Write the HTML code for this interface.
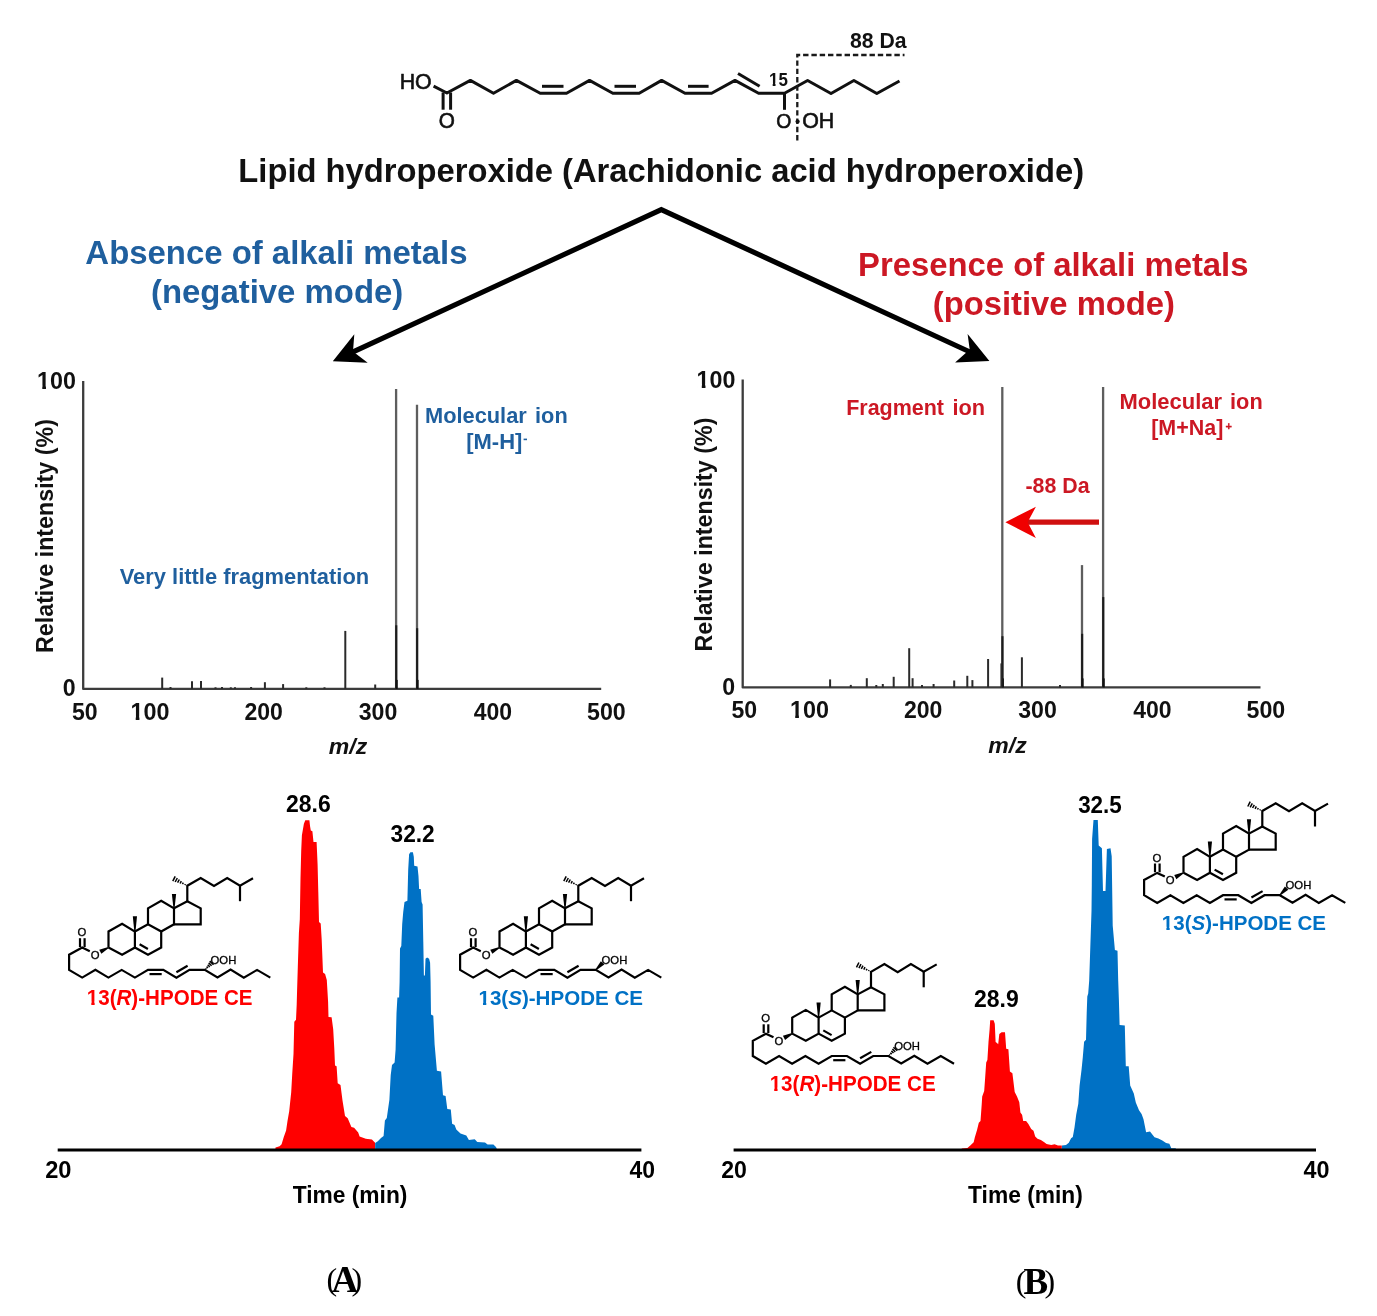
<!DOCTYPE html>
<html><head><meta charset="utf-8"><style>
html,body{margin:0;padding:0;background:#fff;}
svg{display:block;filter:blur(0.4px);}
text{font-family:"Liberation Sans",sans-serif;}
</style></head><body>
<svg width="1377" height="1316" viewBox="0 0 1377 1316">
<rect width="1377" height="1316" fill="#fff"/>
<polyline points="433.6,86.2 446.9,93.0 470.4,80.4 493.5,93.2 516.4,80.4 540.2,93.2 566.5,93.2 589.5,80.4 612.8,93.2 639.2,93.2 661.6,80.4 685.0,93.2 711.6,93.2 735.0,80.4 758.6,93.2 784.5,93.2 807.6,80.5 831.0,93.5 853.9,80.5 876.8,93.5 899.5,81.0" fill="none" stroke="#111" stroke-width="3.0" stroke-linejoin="round"/>
<line x1="443.10" y1="92.50" x2="443.10" y2="109.70" stroke="#111" stroke-width="3.0" />
<line x1="450.60" y1="92.50" x2="450.60" y2="109.70" stroke="#111" stroke-width="3.0" />
<line x1="542.00" y1="86.30" x2="563.50" y2="86.30" stroke="#111" stroke-width="3.0" />
<line x1="614.50" y1="86.30" x2="636.00" y2="86.30" stroke="#111" stroke-width="3.0" />
<line x1="688.00" y1="86.30" x2="708.60" y2="86.30" stroke="#111" stroke-width="3.0" />
<line x1="738.00" y1="73.50" x2="759.60" y2="86.30" stroke="#111" stroke-width="3.0" />
<line x1="784.50" y1="93.00" x2="784.50" y2="109.80" stroke="#111" stroke-width="3.0" />
<text x="399.69" y="88.90" font-size="21.31" font-weight="normal" fill="#111" stroke="#111" stroke-width="0.6" stroke-linejoin="round" transform="matrix(1,0,0,1.035,0,-3.111)" textLength="31.97" lengthAdjust="spacingAndGlyphs" style="">HO</text>
<text x="438.67" y="128.20" font-size="20.73" font-weight="normal" fill="#111" stroke="#111" stroke-width="0.6" stroke-linejoin="round" transform="matrix(1,0,0,1.035,0,-4.487)" textLength="16.12" lengthAdjust="spacingAndGlyphs" style="">O</text>
<text x="776.33" y="128.10" font-size="19.42" font-weight="normal" fill="#111" stroke="#111" stroke-width="0.6" stroke-linejoin="round" transform="matrix(1,0,0,1.035,0,-4.483)" textLength="15.10" lengthAdjust="spacingAndGlyphs" style="">O</text>
<text x="802.24" y="128.10" font-size="21.38" font-weight="normal" fill="#111" stroke="#111" stroke-width="0.6" stroke-linejoin="round" transform="matrix(1,0,0,1.035,0,-4.483)" textLength="32.07" lengthAdjust="spacingAndGlyphs" style="">OH</text>
<text x="768.98" y="85.60" font-size="16.98" font-weight="bold" fill="#111" transform="matrix(1,0,0,1.035,0,-2.996)" textLength="18.88" lengthAdjust="spacingAndGlyphs" style="">15</text><rect x="769.23" y="82.81" width="3.46" height="3.79" fill="#fff"/><rect x="775.52" y="82.81" width="3.33" height="3.79" fill="#fff"/>
<path d="M797.3,140.5 V55 H904.5" fill="none" stroke="#1a1a1a" stroke-width="2.3" stroke-dasharray="5.4,2.9"/>
<circle cx="797.6" cy="121.6" r="2.1" fill="#111"/>
<text x="849.96" y="48.30" font-size="21.21" font-weight="bold" fill="#111" transform="matrix(1,0,0,1.035,0,-1.690)" textLength="56.60" lengthAdjust="spacingAndGlyphs" style="">88 Da</text>
<text x="238.37" y="182.50" font-size="32.73" font-weight="bold" fill="#111" transform="matrix(1,0,0,1.035,0,-6.387)" textLength="845.68" lengthAdjust="spacingAndGlyphs" style="">Lipid hydroperoxide (Arachidonic acid hydroperoxide)</text>
<polyline points="352,352.4 661.3,209.6 970,352" fill="none" stroke="#000" stroke-width="5.1" stroke-linejoin="miter"/>
<polygon points="332.8,361.3 354.3,334.2 353.0,351.4 367.7,362.7" fill="#000"/>
<polygon points="989.4,361.0 967.6,334.0 969.7,349.4 955.1,362.4" fill="#000"/>
<text x="85.38" y="263.80" font-size="32.90" font-weight="bold" fill="#1f5f9e" transform="matrix(1,0,0,1.035,0,-9.233)" textLength="382.18" lengthAdjust="spacingAndGlyphs" style="">Absence of alkali metals</text>
<text x="150.95" y="302.70" font-size="32.91" font-weight="bold" fill="#1f5f9e" transform="matrix(1,0,0,1.035,0,-10.594)" textLength="252.33" lengthAdjust="spacingAndGlyphs" style="">(negative mode)</text>
<text x="858.07" y="276.20" font-size="32.82" font-weight="bold" fill="#cc1824" transform="matrix(1,0,0,1.035,0,-9.667)" textLength="390.37" lengthAdjust="spacingAndGlyphs" style="">Presence of alkali metals</text>
<text x="932.76" y="314.90" font-size="32.78" font-weight="bold" fill="#cc1824" transform="matrix(1,0,0,1.035,0,-11.021)" textLength="242.27" lengthAdjust="spacingAndGlyphs" style="">(positive mode)</text>
<path d="M83.20,380.90 V688.90 H601.20" fill="none" stroke="#3c3c3c" stroke-width="2.3" stroke-linejoin="round"/>
<line x1="162.20" y1="677.60" x2="162.20" y2="688.90" stroke="#2a2a2a" stroke-width="2.0" />
<line x1="170.50" y1="687.00" x2="170.50" y2="688.90" stroke="#2a2a2a" stroke-width="2.0" />
<line x1="192.00" y1="681.20" x2="192.00" y2="688.90" stroke="#2a2a2a" stroke-width="2.0" />
<line x1="201.00" y1="681.00" x2="201.00" y2="688.90" stroke="#2a2a2a" stroke-width="2.0" />
<line x1="215.50" y1="687.30" x2="215.50" y2="688.90" stroke="#2a2a2a" stroke-width="2.0" />
<line x1="222.00" y1="687.00" x2="222.00" y2="688.90" stroke="#2a2a2a" stroke-width="2.0" />
<line x1="230.80" y1="687.30" x2="230.80" y2="688.90" stroke="#2a2a2a" stroke-width="2.0" />
<line x1="235.00" y1="687.30" x2="235.00" y2="688.90" stroke="#2a2a2a" stroke-width="2.0" />
<line x1="251.10" y1="687.00" x2="251.10" y2="688.90" stroke="#2a2a2a" stroke-width="2.0" />
<line x1="264.90" y1="682.20" x2="264.90" y2="688.90" stroke="#2a2a2a" stroke-width="2.0" />
<line x1="283.10" y1="684.10" x2="283.10" y2="688.90" stroke="#2a2a2a" stroke-width="2.0" />
<line x1="306.30" y1="687.30" x2="306.30" y2="688.90" stroke="#2a2a2a" stroke-width="2.0" />
<line x1="324.50" y1="687.30" x2="324.50" y2="688.90" stroke="#2a2a2a" stroke-width="2.0" />
<line x1="345.30" y1="630.90" x2="345.30" y2="688.90" stroke="#2a2a2a" stroke-width="2.0" />
<line x1="375.20" y1="684.50" x2="375.20" y2="688.90" stroke="#2a2a2a" stroke-width="2.0" />
<line x1="396.10" y1="389.10" x2="396.10" y2="688.90" stroke="#5e5e5e" stroke-width="2.3" />
<line x1="396.25" y1="625.30" x2="396.25" y2="688.90" stroke="#1c1c1c" stroke-width="2.1" />
<line x1="396.70" y1="679.90" x2="396.70" y2="688.90" stroke="#111" stroke-width="2.0" />
<line x1="417.00" y1="404.70" x2="417.00" y2="688.90" stroke="#5e5e5e" stroke-width="2.3" />
<line x1="417.15" y1="628.20" x2="417.15" y2="688.90" stroke="#1c1c1c" stroke-width="2.1" />
<line x1="417.60" y1="679.90" x2="417.60" y2="688.90" stroke="#111" stroke-width="2.0" />
<text x="37.10" y="389.20" font-size="23.26" font-weight="bold" fill="#111" transform="matrix(1,0,0,1.035,0,-13.622)" textLength="38.81" lengthAdjust="spacingAndGlyphs" style="">100</text><rect x="37.67" y="385.74" width="4.62" height="4.46" fill="#fff"/><rect x="45.97" y="385.74" width="4.37" height="4.46" fill="#fff"/>
<text x="62.67" y="696.40" font-size="23.16" font-weight="bold" fill="#111" transform="matrix(1,0,0,1.035,0,-24.374)" textLength="12.88" lengthAdjust="spacingAndGlyphs" style="">0</text>
<text x="71.91" y="720.00" font-size="23.08" font-weight="bold" fill="#111" transform="matrix(1,0,0,1.035,0,-25.200)" textLength="25.67" lengthAdjust="spacingAndGlyphs" style="">50</text>
<text x="130.50" y="720.00" font-size="23.39" font-weight="bold" fill="#111" transform="matrix(1,0,0,1.035,0,-25.200)" textLength="39.02" lengthAdjust="spacingAndGlyphs" style="">100</text><rect x="131.07" y="716.53" width="4.64" height="4.47" fill="#fff"/><rect x="139.41" y="716.53" width="4.39" height="4.47" fill="#fff"/>
<text x="244.39" y="720.00" font-size="23.02" font-weight="bold" fill="#111" transform="matrix(1,0,0,1.035,0,-25.200)" textLength="38.41" lengthAdjust="spacingAndGlyphs" style="">200</text>
<text x="358.72" y="720.00" font-size="23.12" font-weight="bold" fill="#111" transform="matrix(1,0,0,1.035,0,-25.200)" textLength="38.58" lengthAdjust="spacingAndGlyphs" style="">300</text>
<text x="473.66" y="720.00" font-size="22.98" font-weight="bold" fill="#111" transform="matrix(1,0,0,1.035,0,-25.200)" textLength="38.34" lengthAdjust="spacingAndGlyphs" style="">400</text>
<text x="587.00" y="720.00" font-size="23.20" font-weight="bold" fill="#111" transform="matrix(1,0,0,1.035,0,-25.200)" textLength="38.71" lengthAdjust="spacingAndGlyphs" style="">500</text>
<text x="328.85" y="754.30" font-size="22.00" font-weight="bold" fill="#111" transform="matrix(1,0,0,1.035,0,-26.400)" textLength="38.41" lengthAdjust="spacingAndGlyphs" style="font-style:italic;">m/z</text>
<text transform="translate(52.90,651.50) rotate(-90)" x="-1.51" y="0" font-size="23.26" font-weight="bold" fill="#111" textLength="233.94" lengthAdjust="spacingAndGlyphs">Relative intensity (%)</text>
<path d="M742.70,379.40 V687.40 H1260.50" fill="none" stroke="#3c3c3c" stroke-width="2.3" stroke-linejoin="round"/>
<line x1="830.10" y1="679.40" x2="830.10" y2="687.40" stroke="#2a2a2a" stroke-width="2.0" />
<line x1="850.80" y1="684.90" x2="850.80" y2="687.40" stroke="#2a2a2a" stroke-width="2.0" />
<line x1="866.80" y1="678.20" x2="866.80" y2="687.40" stroke="#2a2a2a" stroke-width="2.0" />
<line x1="876.30" y1="685.00" x2="876.30" y2="687.40" stroke="#2a2a2a" stroke-width="2.0" />
<line x1="882.80" y1="684.00" x2="882.80" y2="687.40" stroke="#2a2a2a" stroke-width="2.0" />
<line x1="893.70" y1="676.80" x2="893.70" y2="687.40" stroke="#2a2a2a" stroke-width="2.0" />
<line x1="909.20" y1="648.20" x2="909.20" y2="687.40" stroke="#2a2a2a" stroke-width="2.0" />
<line x1="912.60" y1="678.20" x2="912.60" y2="687.40" stroke="#2a2a2a" stroke-width="2.0" />
<line x1="922.00" y1="685.00" x2="922.00" y2="687.40" stroke="#2a2a2a" stroke-width="2.0" />
<line x1="933.60" y1="684.00" x2="933.60" y2="687.40" stroke="#2a2a2a" stroke-width="2.0" />
<line x1="954.20" y1="680.50" x2="954.20" y2="687.40" stroke="#2a2a2a" stroke-width="2.0" />
<line x1="967.30" y1="675.80" x2="967.30" y2="687.40" stroke="#2a2a2a" stroke-width="2.0" />
<line x1="972.40" y1="680.10" x2="972.40" y2="687.40" stroke="#2a2a2a" stroke-width="2.0" />
<line x1="988.10" y1="659.00" x2="988.10" y2="687.40" stroke="#2a2a2a" stroke-width="2.0" />
<line x1="1002.30" y1="387.10" x2="1002.30" y2="687.40" stroke="#5e5e5e" stroke-width="2.3" />
<line x1="1002.45" y1="636.20" x2="1002.45" y2="687.40" stroke="#1c1c1c" stroke-width="2.1" />
<line x1="1002.90" y1="678.40" x2="1002.90" y2="687.40" stroke="#111" stroke-width="2.0" />
<line x1="1001.40" y1="663.40" x2="1001.40" y2="687.40" stroke="#2a2a2a" stroke-width="2.0" />
<line x1="1021.90" y1="657.30" x2="1021.90" y2="687.40" stroke="#2a2a2a" stroke-width="2.0" />
<line x1="1060.00" y1="685.00" x2="1060.00" y2="687.40" stroke="#2a2a2a" stroke-width="2.0" />
<line x1="1082.00" y1="565.10" x2="1082.00" y2="687.40" stroke="#5e5e5e" stroke-width="2.3" />
<line x1="1082.15" y1="633.80" x2="1082.15" y2="687.40" stroke="#1c1c1c" stroke-width="2.1" />
<line x1="1082.60" y1="678.40" x2="1082.60" y2="687.40" stroke="#111" stroke-width="2.0" />
<line x1="1103.10" y1="387.10" x2="1103.10" y2="687.40" stroke="#5e5e5e" stroke-width="2.3" />
<line x1="1103.25" y1="597.10" x2="1103.25" y2="687.40" stroke="#1c1c1c" stroke-width="2.1" />
<line x1="1103.70" y1="678.40" x2="1103.70" y2="687.40" stroke="#111" stroke-width="2.0" />
<text x="696.60" y="387.70" font-size="23.26" font-weight="bold" fill="#111" transform="matrix(1,0,0,1.035,0,-13.569)" textLength="38.81" lengthAdjust="spacingAndGlyphs" style="">100</text><rect x="697.17" y="384.24" width="4.62" height="4.46" fill="#fff"/><rect x="705.47" y="384.24" width="4.37" height="4.46" fill="#fff"/>
<text x="722.17" y="694.90" font-size="23.16" font-weight="bold" fill="#111" transform="matrix(1,0,0,1.035,0,-24.321)" textLength="12.88" lengthAdjust="spacingAndGlyphs" style="">0</text>
<text x="731.41" y="718.50" font-size="23.08" font-weight="bold" fill="#111" transform="matrix(1,0,0,1.035,0,-25.147)" textLength="25.67" lengthAdjust="spacingAndGlyphs" style="">50</text>
<text x="790.00" y="718.50" font-size="23.39" font-weight="bold" fill="#111" transform="matrix(1,0,0,1.035,0,-25.147)" textLength="39.02" lengthAdjust="spacingAndGlyphs" style="">100</text><rect x="790.57" y="715.03" width="4.64" height="4.47" fill="#fff"/><rect x="798.91" y="715.03" width="4.39" height="4.47" fill="#fff"/>
<text x="903.89" y="718.50" font-size="23.02" font-weight="bold" fill="#111" transform="matrix(1,0,0,1.035,0,-25.147)" textLength="38.41" lengthAdjust="spacingAndGlyphs" style="">200</text>
<text x="1018.22" y="718.50" font-size="23.12" font-weight="bold" fill="#111" transform="matrix(1,0,0,1.035,0,-25.147)" textLength="38.58" lengthAdjust="spacingAndGlyphs" style="">300</text>
<text x="1133.16" y="718.50" font-size="22.98" font-weight="bold" fill="#111" transform="matrix(1,0,0,1.035,0,-25.147)" textLength="38.34" lengthAdjust="spacingAndGlyphs" style="">400</text>
<text x="1246.50" y="718.50" font-size="23.20" font-weight="bold" fill="#111" transform="matrix(1,0,0,1.035,0,-25.147)" textLength="38.71" lengthAdjust="spacingAndGlyphs" style="">500</text>
<text x="988.35" y="752.80" font-size="22.00" font-weight="bold" fill="#111" transform="matrix(1,0,0,1.035,0,-26.348)" textLength="38.41" lengthAdjust="spacingAndGlyphs" style="font-style:italic;">m/z</text>
<text transform="translate(712.40,650.00) rotate(-90)" x="-1.51" y="0" font-size="23.26" font-weight="bold" fill="#111" textLength="233.94" lengthAdjust="spacingAndGlyphs">Relative intensity (%)</text>
<text x="424.98" y="423.30" font-size="22.10" font-weight="bold" fill="#1f5f9e" transform="matrix(1,0,0,1.035,0,-14.815)" textLength="101.80" lengthAdjust="spacingAndGlyphs" style="">Molecular</text>
<text x="535.08" y="423.30" font-size="22.10" font-weight="bold" fill="#1f5f9e" transform="matrix(1,0,0,1.035,0,-14.815)" textLength="32.62" lengthAdjust="spacingAndGlyphs" style="">ion</text>
<text x="466.19" y="449.20" font-size="22.01" font-weight="bold" fill="#1f5f9e" transform="matrix(1,0,0,1.035,0,-15.722)" textLength="56.22" lengthAdjust="spacingAndGlyphs" style="">[M-H]</text>
<rect x="523.6" y="438.6" width="3.4" height="1.6" fill="#1f5f9e"/>
<text x="119.69" y="584.00" font-size="21.90" font-weight="bold" fill="#1f5f9e" transform="matrix(1,0,0,1.035,0,-20.440)" textLength="249.46" lengthAdjust="spacingAndGlyphs" style="">Very little fragmentation</text>
<text x="846.20" y="414.60" font-size="21.90" font-weight="bold" fill="#cc1824" transform="matrix(1,0,0,1.035,0,-14.511)" textLength="97.84" lengthAdjust="spacingAndGlyphs" style="">Fragment</text>
<text x="952.38" y="414.60" font-size="21.90" font-weight="bold" fill="#cc1824" transform="matrix(1,0,0,1.035,0,-14.511)" textLength="32.62" lengthAdjust="spacingAndGlyphs" style="">ion</text>
<text x="1119.57" y="409.40" font-size="22.10" font-weight="bold" fill="#cc1824" transform="matrix(1,0,0,1.035,0,-14.329)" textLength="102.51" lengthAdjust="spacingAndGlyphs" style="">Molecular</text>
<text x="1230.08" y="409.40" font-size="22.10" font-weight="bold" fill="#cc1824" transform="matrix(1,0,0,1.035,0,-14.329)" textLength="32.62" lengthAdjust="spacingAndGlyphs" style="">ion</text>
<text x="1151.22" y="435.00" font-size="21.45" font-weight="bold" fill="#cc1824" transform="matrix(1,0,0,1.035,0,-15.225)" textLength="72.09" lengthAdjust="spacingAndGlyphs" style="">[M+Na]</text>
<text x="1225.5" y="429.6" font-size="11" font-weight="bold" fill="#cc1824" stroke="#cc1824" stroke-width="0.3">+</text>
<text x="1025.44" y="493.00" font-size="21.38" font-weight="bold" fill="#cc1824" transform="matrix(1,0,0,1.035,0,-17.255)" textLength="64.17" lengthAdjust="spacingAndGlyphs" style="">-88 Da</text>
<line x1="1026" y1="522.2" x2="1099" y2="522.2" stroke="#d01010" stroke-width="5.2"/>
<polygon points="1005.4,522.2 1035.9,506.8 1027.6,522.2 1035.9,538.1" fill="#f00000"/>
<defs><g id="ce"><g fill="none" stroke="#000" stroke-width="2.2" stroke-linejoin="miter" stroke-miterlimit="4"><polyline points="53.5,77.5 53.5,61.5 67.1,53.8 79.9,61.5 79.9,77.5 67.1,84.7 53.5,77.5"/><polyline points="79.9,61.5 93.0,54.3 106.2,61.5 106.2,77.5 93.0,84.7 79.9,77.5"/><polyline points="93.0,54.3 93.0,38.3 106.2,30.7 119.0,38.3 119.0,54.3 106.2,61.5"/><polyline points="119.0,38.3 132.3,31.2 145.7,38.3 145.7,54.3 119.0,54.3"/><polyline points="132.3,31.2 132.3,15.7 145.7,8.0 159.0,16.0 172.2,8.0 185.0,15.7 198.0,8.3"/><polyline points="185.0,15.7 185.0,31.2"/><polyline points="84.6,74.3 92.9,79.0"/><polyline points="34.8,81.2 27.2,77.6 14.1,84.7 14.1,99.9 27.2,107.6 40.4,99.9 53.4,107.6 66.7,99.9 79.9,107.6 93.0,99.9 108.3,99.9 121.4,107.6 134.5,99.9 149.8,99.9 162.5,107.4 175.6,99.6 188.8,107.6 202.1,99.9 215.3,107.6"/><polyline points="25.0,77.0 25.0,68.2"/><polyline points="29.6,77.0 29.6,68.2"/><polyline points="94.5,104.1 106.7,104.1"/><polyline points="121.4,102.2 132.6,95.8"/></g><polygon points="80.50,61.50 82.00,46.30 77.80,46.30 79.30,61.50" fill="#000"/><polygon points="119.60,38.30 121.10,24.00 116.90,24.00 118.40,38.30" fill="#000"/><polygon points="53.22,76.97 44.23,79.76 46.37,83.84 53.78,78.03" fill="#000"/><g stroke="#000" stroke-width="1.5"><line x1="130.4" y1="14.1" x2="129.9" y2="15.1"/><line x1="128.3" y1="12.7" x2="127.5" y2="14.2"/><line x1="126.3" y1="11.1" x2="125.1" y2="13.5"/><line x1="124.3" y1="9.5" x2="122.6" y2="12.7"/><line x1="122.3" y1="8.0" x2="120.2" y2="12.0"/><line x1="120.2" y1="6.4" x2="117.8" y2="11.2"/></g><g font-size="11.3" fill="#000" stroke="#000" stroke-width="0.3"><text x="40.1" y="88.9" text-anchor="middle">O</text><text x="27.0" y="66.3" text-anchor="middle">O</text><text x="155.6" y="93.7" textLength="25.7" lengthAdjust="spacingAndGlyphs">OOH</text></g></g></defs>
<polygon points="275.3,1150.0 275.5,1147.6 279.6,1146.2 281.6,1144.2 283.7,1137.3 286.1,1130.5 287.5,1120.9 289.2,1111.3 291.2,1092.2 292.2,1074.4 293.5,1053.9 294.3,1021.7 296.0,1019.7 296.7,1004.6 297.1,990.0 297.8,967.2 298.9,933.0 299.8,919.3 300.5,878.3 301.2,851.0 301.9,835.3 303.9,823.7 305.3,820.3 309.4,820.3 310.1,826.4 310.8,830.5 312.4,831.2 313.5,842.1 316.6,842.1 317.6,864.7 318.3,892.0 319.0,922.0 320.7,923.4 321.7,939.8 323.0,972.6 325.1,974.0 326.8,980.0 328.1,1001.9 328.5,1016.9 331.6,1017.2 333.2,1029.2 334.3,1048.4 335.0,1065.5 336.6,1066.2 337.7,1083.3 340.5,1085.1 342.5,1100.4 345.0,1116.1 347.7,1118.2 351.4,1127.1 354.1,1127.7 358.2,1132.5 359.6,1136.6 365.8,1138.7 371.9,1139.4 375.1,1142.8 375.1,1150.0" fill="#ff0000"/>
<polygon points="375.1,1150.0 375.2,1143.1 377.8,1141.2 381.0,1138.0 383.6,1136.0 384.9,1120.5 386.8,1117.9 389.4,1099.8 390.7,1075.3 392.0,1065.0 394.6,1062.4 395.6,1049.4 396.5,1013.3 397.4,997.6 399.1,997.6 399.6,982.1 400.0,948.5 401.3,945.9 402.2,924.0 403.2,912.3 404.5,902.0 407.4,900.7 408.2,869.7 409.1,854.2 410.4,852.3 412.9,852.3 413.8,856.8 414.2,865.8 417.5,866.5 418.5,876.2 419.1,889.1 420.7,889.1 421.6,902.0 422.6,904.6 423.3,942.0 423.9,975.6 424.9,975.6 425.5,958.8 427.1,957.5 429.1,958.8 430.1,962.7 430.6,982.1 431.0,1014.6 433.3,1015.8 434.6,1044.3 436.9,1070.8 441.1,1071.4 443.0,1095.3 445.6,1096.0 447.3,1108.9 450.8,1109.5 452.1,1123.8 454.6,1125.0 456.3,1129.6 460.5,1133.4 466.3,1135.4 468.9,1139.9 474.7,1139.3 477.3,1141.9 485.0,1142.5 487.6,1144.4 493.4,1144.4 496.0,1147.0 497.3,1150.0" fill="#0071c5"/>
<polygon points="961.7,1150.0 961.7,1148.5 967.4,1147.9 970.3,1145.6 973.7,1142.2 974.8,1137.6 977.1,1129.7 978.8,1122.8 980.5,1121.1 981.7,1104.6 982.2,1096.6 984.2,1090.9 985.1,1078.4 986.2,1062.4 987.4,1060.1 988.5,1041.9 989.6,1029.4 990.2,1020.3 993.6,1020.3 994.8,1023.7 995.6,1041.9 997.0,1043.0 998.2,1044.2 999.3,1033.9 1001.6,1032.2 1005.0,1032.2 1006.2,1048.7 1008.4,1049.3 1009.9,1071.5 1012.4,1073.2 1014.7,1092.0 1017.0,1096.6 1019.3,1102.3 1020.4,1112.6 1022.1,1114.8 1023.2,1121.1 1026.1,1121.1 1028.4,1124.0 1031.2,1129.1 1033.5,1130.8 1035.2,1136.5 1037.5,1138.8 1040.9,1139.9 1044.3,1142.2 1046.6,1143.9 1051.2,1145.0 1054.6,1144.2 1058.0,1145.4 1061.8,1145.4 1061.8,1150.0" fill="#ff0000"/>
<polygon points="1061.8,1150.0 1062.0,1145.6 1066.0,1145.0 1068.8,1142.8 1071.1,1138.2 1072.8,1137.1 1074.5,1127.4 1076.2,1114.8 1078.3,1103.7 1079.6,1085.6 1081.5,1070.1 1082.8,1057.2 1084.1,1041.7 1086.0,1039.8 1086.7,1013.3 1087.3,996.5 1088.2,993.4 1089.2,980.4 1090.3,947.2 1091.5,911.1 1091.8,885.1 1092.1,838.9 1093.5,820.1 1097.8,820.1 1098.7,845.4 1101.9,848.3 1103.0,890.9 1105.5,890.9 1106.9,849.0 1110.5,848.3 1111.7,856.2 1112.7,925.5 1114.9,950.1 1117.5,950.8 1118.2,980.4 1118.9,1000.0 1119.6,1024.9 1124.8,1025.5 1125.8,1066.2 1128.7,1066.2 1130.2,1085.6 1133.8,1093.4 1135.8,1102.4 1139.0,1110.2 1141.6,1114.1 1143.5,1119.2 1146.1,1132.2 1150.0,1131.5 1154.5,1137.3 1158.4,1138.6 1162.3,1140.6 1166.1,1143.1 1169.4,1143.8 1171.3,1148.3 1175.8,1148.3 1175.8,1150.0" fill="#0071c5"/>
<line x1="57.70" y1="1150.00" x2="641.40" y2="1150.00" stroke="#000" stroke-width="3" />
<line x1="733.60" y1="1150.00" x2="1316.00" y2="1150.00" stroke="#000" stroke-width="3" />
<text x="45.17" y="1177.90" font-size="23.67" font-weight="bold" fill="#000" transform="matrix(1,0,0,1.035,0,-41.226)" textLength="26.33" lengthAdjust="spacingAndGlyphs" style="">20</text>
<text x="721.19" y="1177.90" font-size="23.09" font-weight="bold" fill="#000" transform="matrix(1,0,0,1.035,0,-41.226)" textLength="25.69" lengthAdjust="spacingAndGlyphs" style="">20</text>
<text x="629.46" y="1177.90" font-size="22.94" font-weight="bold" fill="#000" transform="matrix(1,0,0,1.035,0,-41.226)" textLength="25.52" lengthAdjust="spacingAndGlyphs" style="">40</text>
<text x="1303.55" y="1177.90" font-size="23.41" font-weight="bold" fill="#000" transform="matrix(1,0,0,1.035,0,-41.226)" textLength="26.04" lengthAdjust="spacingAndGlyphs" style="">40</text>
<text x="292.77" y="1202.90" font-size="22.75" font-weight="bold" fill="#000" transform="matrix(1,0,0,1.035,0,-42.101)" textLength="114.61" lengthAdjust="spacingAndGlyphs" style="">Time (min)</text>
<text x="968.07" y="1202.90" font-size="22.79" font-weight="bold" fill="#000" transform="matrix(1,0,0,1.035,0,-42.101)" textLength="114.81" lengthAdjust="spacingAndGlyphs" style="">Time (min)</text>
<text x="286.00" y="811.90" font-size="22.99" font-weight="bold" fill="#000" transform="matrix(1,0,0,1.035,0,-28.416)" textLength="44.74" lengthAdjust="spacingAndGlyphs" style="">28.6</text>
<text x="390.53" y="841.80" font-size="22.71" font-weight="bold" fill="#000" transform="matrix(1,0,0,1.035,0,-29.463)" textLength="44.21" lengthAdjust="spacingAndGlyphs" style="">32.2</text>
<text x="974.00" y="1007.20" font-size="22.99" font-weight="bold" fill="#000" transform="matrix(1,0,0,1.035,0,-35.252)" textLength="44.74" lengthAdjust="spacingAndGlyphs" style="">28.9</text>
<text x="1078.14" y="813.10" font-size="22.43" font-weight="bold" fill="#000" transform="matrix(1,0,0,1.035,0,-28.458)" textLength="43.65" lengthAdjust="spacingAndGlyphs" style="">32.5</text>
<g transform="translate(55,870)"><use href="#ce"/><g stroke="#000" stroke-width="1.5"><line x1="151.3" y1="99.2" x2="150.5" y2="98.4"/><line x1="153.0" y1="98.0" x2="151.6" y2="96.6"/><line x1="154.8" y1="96.9" x2="152.7" y2="94.8"/><line x1="156.6" y1="95.8" x2="153.7" y2="92.9"/><line x1="158.5" y1="94.7" x2="154.7" y2="91.1"/></g></g>
<g transform="translate(446,870)"><use href="#ce"/><polygon points="150.23,100.32 158.32,94.57 154.88,91.23 149.37,99.48" fill="#000"/></g>
<g transform="translate(738.7,956.1)"><use href="#ce"/><g stroke="#000" stroke-width="1.5"><line x1="151.3" y1="99.2" x2="150.5" y2="98.4"/><line x1="153.0" y1="98.0" x2="151.6" y2="96.6"/><line x1="154.8" y1="96.9" x2="152.7" y2="94.8"/><line x1="156.6" y1="95.8" x2="153.7" y2="92.9"/><line x1="158.5" y1="94.7" x2="154.7" y2="91.1"/></g></g>
<g transform="translate(1130,795.3)"><use href="#ce"/><polygon points="150.23,100.32 158.32,94.57 154.88,91.23 149.37,99.48" fill="#000"/></g>
<text x="86.77" y="1004.60" font-size="20.58" font-weight="bold" fill="#ff0000" transform="matrix(1,0,0,1.035,0,-35.161)" textLength="165.80" lengthAdjust="spacingAndGlyphs" style="">13(<tspan style="font-style:italic">R</tspan>)-HPODE CE</text><rect x="87.19" y="1001.43" width="4.12" height="4.17" fill="#fff"/><rect x="94.64" y="1001.43" width="3.93" height="4.17" fill="#fff"/>
<text x="478.48" y="1004.60" font-size="20.41" font-weight="bold" fill="#0071c5" transform="matrix(1,0,0,1.035,0,-35.161)" textLength="164.48" lengthAdjust="spacingAndGlyphs" style="">13(<tspan style="font-style:italic">S</tspan>)-HPODE CE</text><rect x="478.90" y="1001.44" width="4.09" height="4.16" fill="#fff"/><rect x="486.29" y="1001.44" width="3.90" height="4.16" fill="#fff"/>
<text x="769.66" y="1090.70" font-size="20.60" font-weight="bold" fill="#ff0000" transform="matrix(1,0,0,1.035,0,-38.174)" textLength="166.00" lengthAdjust="spacingAndGlyphs" style="">13(<tspan style="font-style:italic">R</tspan>)-HPODE CE</text><rect x="770.09" y="1087.52" width="4.13" height="4.18" fill="#fff"/><rect x="777.55" y="1087.52" width="3.93" height="4.18" fill="#fff"/>
<text x="1161.88" y="929.90" font-size="20.38" font-weight="bold" fill="#0071c5" transform="matrix(1,0,0,1.035,0,-32.546)" textLength="164.18" lengthAdjust="spacingAndGlyphs" style="">13(<tspan style="font-style:italic">S</tspan>)-HPODE CE</text><rect x="1162.30" y="926.75" width="4.09" height="4.15" fill="#fff"/><rect x="1169.68" y="926.75" width="3.89" height="4.15" fill="#fff"/>
<text x="326.5" y="1290.3" font-size="32" font-weight="normal" fill="#000" style="font-family:'Liberation Serif',serif">(</text><text x="331.5" y="1291.8" font-size="37" font-weight="bold" fill="#000" style="font-family:'Liberation Serif',serif">A</text><text x="351.5" y="1290.3" font-size="32" font-weight="normal" fill="#000" style="font-family:'Liberation Serif',serif">)</text>
<text x="1015.7" y="1292.1" font-size="32" font-weight="normal" fill="#000" style="font-family:'Liberation Serif',serif">(</text><text x="1023.5" y="1293.6" font-size="37" font-weight="bold" fill="#000" style="font-family:'Liberation Serif',serif">B</text><text x="1044.4" y="1292.1" font-size="32" font-weight="normal" fill="#000" style="font-family:'Liberation Serif',serif">)</text>
</svg></body></html>
